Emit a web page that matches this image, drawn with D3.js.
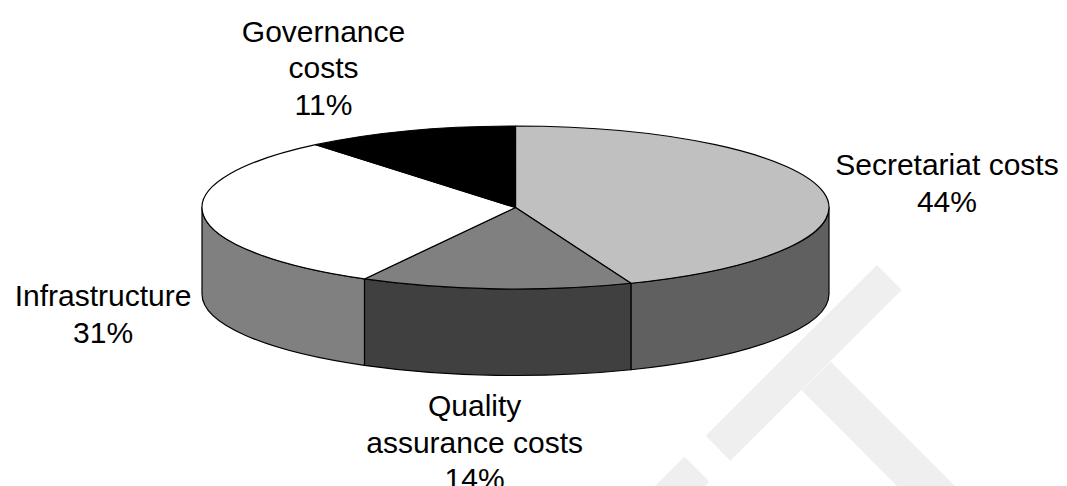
<!DOCTYPE html>
<html>
<head>
<meta charset="utf-8">
<script src="https://cdn.jsdelivr.net/npm/d3@7"></script>
<style>
  body { margin: 0; background: #fff; }
  svg { display: block; }
  .lbl { font-family: "Liberation Sans", Arial, sans-serif; font-size: 30px; fill: #000; }
</style>
</head>
<body>
<svg id="chart" width="1067" height="486"></svg>
<script>
// data
const categories = ['Secretariat costs', 'Quality assurance costs', 'Infrastructure', 'Governance costs']
const values = [44, 14, 31, 11]
const labelLines = [['Secretariat costs'], ['Quality', 'assurance costs'], ['Infrastructure'], ['Governance', 'costs']]

// styles
const topColors = ['#c0c0c0', '#808080', '#ffffff', '#000000']
const sideColors = ['#606060', '#404040', '#808080', '#202020']

// geometry of the tilted pie
const cx = 515.5, cy = 207.5
const rx = 313.5, ry = 81.5
const depth = 86.5
const lh = 36.7

const svg = d3.select('#chart')

// watermark in the corner
const mark = svg.append('g').attr('fill', '#efefef')
const bands = [
  [[705.7, 435.7], [877, 265], [901.7, 290], [730.3, 460.7]],
  [[801.7, 390.3], [830.7, 361.7], [955, 486], [897, 486]],
  [[684.3, 456.7], [709.3, 481.7], [679.3, 511.7], [654.3, 486.7]]
]
bands.forEach(b => mark.append('polygon').attr('points', b.map(p => p.join(',')).join(' ')))

const pie = d3.pie().sort(null).value(d => d)
const arcs = pie(values)

function pt(a, dy) {
  return [cx + rx * Math.sin(a), cy - ry * Math.cos(a) + (dy || 0)]
}

function topPath(a0, a1) {
  const p0 = pt(a0), p1 = pt(a1)
  const large = (a1 - a0) > Math.PI ? 1 : 0
  return `M${cx},${cy}L${p0}A${rx},${ry} 0 ${large} 1 ${p1}Z`
}

function wallPath(a0, a1) {
  const b0 = Math.max(a0, Math.PI / 2)
  const b1 = Math.min(a1, Math.PI * 1.5)
  if (b1 <= b0) return null
  const p0 = pt(b0), p1 = pt(b1)
  const q0 = pt(b0, depth), q1 = pt(b1, depth)
  return `M${p0}A${rx},${ry} 0 0 1 ${p1}L${q1}A${rx},${ry} 0 0 0 ${q0}Z`
}

const g = svg.append('g')
  .attr('stroke', '#000')
  .attr('stroke-width', 1.2)
  .attr('stroke-linejoin', 'round')

// outer walls first
g.selectAll('path.wall')
  .data(arcs.filter(d => wallPath(d.startAngle, d.endAngle)))
  .join('path')
  .attr('class', 'wall')
  .attr('d', d => wallPath(d.startAngle, d.endAngle))
  .attr('fill', d => sideColors[d.index])

// top faces
g.selectAll('path.top')
  .data(arcs)
  .join('path')
  .attr('class', 'top')
  .attr('d', d => topPath(d.startAngle, d.endAngle))
  .attr('fill', d => topColors[d.index])

// labels: name + percent, placed outside the slice
const total = d3.sum(values)
const gap = 12
arcs.forEach((d, i) => {
  const lines = labelLines[i].concat([Math.round(d.value / total * 100) + '%'])
  const mid = (d.startAngle + d.endAngle) / 2
  const s = Math.sin(mid), c = Math.cos(mid)
  const ax = cx + (rx + gap) * s
  const ay = cy - (ry + gap) * c + (c < 0 ? depth : 0)

  const t = svg.append('text').attr('class', 'lbl').attr('text-anchor', 'middle')
  const spans = lines.map(l => t.append('tspan').text(l))
  const w = d3.max(spans, sp => sp.node().getComputedTextLength())
  const h = lines.length * lh
  const fx = Math.max(-1, Math.min(1, 3 * s))
  const bx = ax + fx * w / 2
  // labels under the pie sit below their anchor
  const fy = c < 0 ? Math.max(-c, 0.3) : -c
  const by = ay + fy * h / 2
  spans.forEach((sp, k) => {
    sp.attr('x', bx).attr('y', by - h / 2 + (k + 0.5) * lh).attr('dy', '0.35em')
  })
})
</script>
</body>
</html>
